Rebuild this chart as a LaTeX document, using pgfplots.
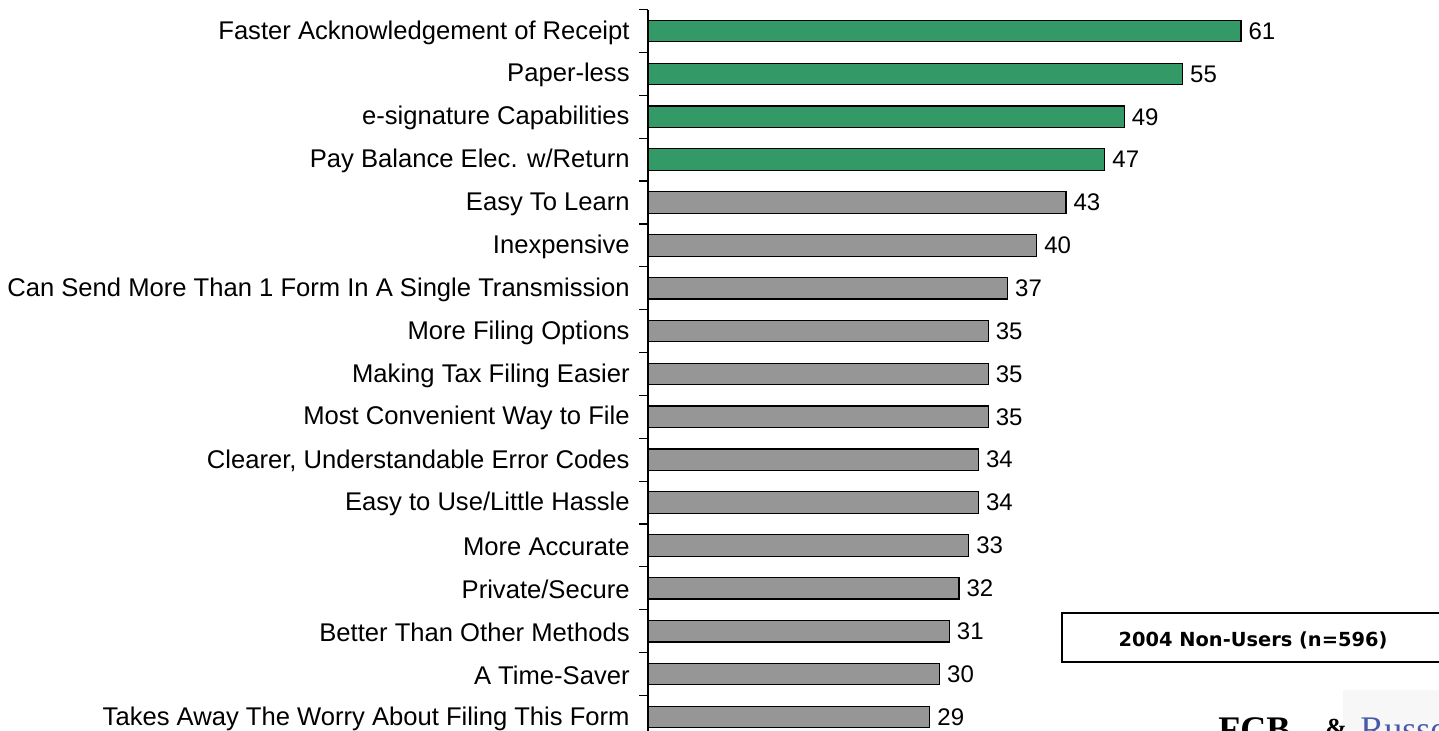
\documentclass[border=0pt]{standalone}
\usepackage{pgfplots}
\pgfplotsset{compat=1.18}
\usepackage{fontspec}
\setmainfont{Liberation Sans}
\newfontfamily\boxfont{DejaVu Sans}
\newfontfamily\logofont{Liberation Serif}
\definecolor{barGreen}{RGB}{51,153,102}
\definecolor{barGrey}{RGB}{150,150,150}
\definecolor{logoBlue}{RGB}{70,90,170}
\begin{document}
\begin{tikzpicture}
\path[use as bounding box, clip] (0,0) rectangle (719.5pt,365pt);
\fill[gray!6] (671.5pt,0pt) rectangle (719.5pt,20pt);
\begin{axis}[
  at={(324pt,360.22pt)}, anchor=north west,
  scale only axis, width=388.8pt, height=364.4pt,
  xmin=0, xmax=80, ymin=-0.5, ymax=16.5, y dir=reverse,
  axis x line=none, axis y line*=left,
  axis line style={line width=0.6pt, black},
  xbar, bar width=10.75pt, bar shift=0pt,
  ytick={0,...,16},
  yticklabels={Faster Acknowledgement of Receipt, Paper-less, e-signature Capabilities, Pay Balance Elec. w/Return, Easy To Learn, Inexpensive, Can Send More Than 1 Form In A Single Transmission, More Filing Options, Making Tax Filing Easier, Most Convenient Way to File, {Clearer, Understandable Error Codes}, Easy to Use/Little Hassle, More Accurate, Private/Secure, Better Than Other Methods, A Time-Saver, Takes Away The Worry About Filing This Form},
  major tick length=0pt,
  minor ytick={-0.5,0.5,...,16.5},
  minor tick length=4.5pt, tick align=outside,
  minor tick style={line width=0.6pt, black},
  yticklabel style={font=\fontsize{12.8pt}{15pt}\selectfont, inner sep=0pt, anchor=east, xshift=-9pt, yshift=-0.75pt},
  /pgf/number format/assume math mode=true,
  nodes near coords,
  nodes near coords style={font=\fontsize{12pt}{14pt}\selectfont, anchor=west, inner sep=0pt, xshift=3.5pt},
  clip=false,
]
\addplot[fill=barGreen, draw=black, line width=0.6pt] coordinates {(61,0) (55,1) (49,2) (47,3)};
\addplot[fill=barGrey, draw=black, line width=0.6pt] coordinates {(43,4) (40,5) (37,6) (35,7) (35,8) (35,9) (34,10) (34,11) (33,12) (32,13) (31,14) (30,15) (29,16)};
\end{axis}
\draw[line width=0.7pt, black] (531pt,58.5pt) rectangle (723pt,34pt);
\node[font=\boxfont\bfseries\fontsize{9.7pt}{11pt}\selectfont] at (626.5pt,45pt) {2004 Non-Users (n=596)};
\node[font=\logofont\bfseries\fontsize{18pt}{20pt}\selectfont, anchor=base west, inner sep=0pt] at (609pt,-5.5pt) {FCB};
\node[font=\logofont\bfseries\fontsize{13pt}{14pt}\selectfont, anchor=base west, inner sep=0pt, text=black] at (662.5pt,-3pt) {\&};
\node[font=\logofont\fontsize{18pt}{20pt}\selectfont, anchor=base west, inner sep=0pt, text=logoBlue] at (680pt,-5.5pt) {Russell};
\end{tikzpicture}
\end{document}
